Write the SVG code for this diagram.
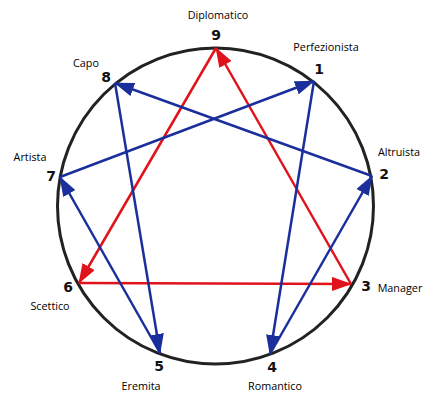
<svg xmlns="http://www.w3.org/2000/svg" width="435" height="410" viewBox="0 0 435 410">
<style>
.num{font-family:"DejaVu Sans","Liberation Sans",sans-serif;font-weight:bold;font-size:14px;fill:#111;text-anchor:middle}
.lbl{font-family:"Open Sans","Liberation Sans",sans-serif;font-size:10.8px;fill:#000;text-anchor:middle}
.red{stroke:#e0121b;stroke-width:2.5;fill:none;marker-end:url(#ar)}
.blue{stroke:#1a2f9c;stroke-width:2.5;fill:none;marker-end:url(#ab)}
</style>
<defs>
<marker id="ar" markerUnits="userSpaceOnUse" markerWidth="20" markerHeight="14" viewBox="0 0 20 14" refX="19" refY="7" orient="auto"><path d="M0,0 L20,7 L0,14 z" fill="#e0121b"/></marker>
<marker id="ab" markerUnits="userSpaceOnUse" markerWidth="20" markerHeight="14" viewBox="0 0 20 14" refX="19" refY="7" orient="auto"><path d="M0,0 L20,7 L0,14 z" fill="#1a2f9c"/></marker>
</defs>
<rect width="435" height="410" fill="#fff"/>
<circle cx="215.5" cy="206" r="158" fill="none" stroke="#222" stroke-width="3"/>
<g id="connectors">
<line class="red" x1="216" y1="48" x2="79" y2="283"/>
<line class="red" x1="79" y1="283" x2="351" y2="284"/>
<line class="red" x1="351" y1="284" x2="216" y2="48"/>
<line class="blue" x1="314" y1="81" x2="270" y2="354"/>
<line class="blue" x1="270" y1="354" x2="372" y2="176"/>
<line class="blue" x1="372" y1="176" x2="115" y2="83"/>
<line class="blue" x1="115" y1="83" x2="160" y2="353"/>
<line class="blue" x1="160" y1="353" x2="60" y2="177"/>
<line class="blue" x1="60" y1="177" x2="314" y2="81"/>
</g>
<g id="n9"><text class="num" x="216" y="40">9</text><text class="lbl" x="218" y="19">Diplomatico</text></g>
<g id="n1"><text class="num" x="319" y="74">1</text><text class="lbl" x="326" y="51">Perfezionista</text></g>
<g id="n2"><text class="num" x="384" y="179">2</text><text class="lbl" x="399" y="156">Altruista</text></g>
<g id="n3"><text class="num" x="366" y="291">3</text><text class="lbl" x="400" y="292">Manager</text></g>
<g id="n4"><text class="num" x="272" y="372">4</text><text class="lbl" x="275" y="390">Romantico</text></g>
<g id="n5"><text class="num" x="159" y="371">5</text><text class="lbl" x="141" y="390">Eremita</text></g>
<g id="n6"><text class="num" x="68" y="292">6</text><text class="lbl" x="50" y="310">Scettico</text></g>
<g id="n7"><text class="num" x="51" y="181">7</text><text class="lbl" x="30" y="161">Artista</text></g>
<g id="n8"><text class="num" x="106" y="82">8</text><text class="lbl" x="86" y="67">Capo</text></g>
</svg>
